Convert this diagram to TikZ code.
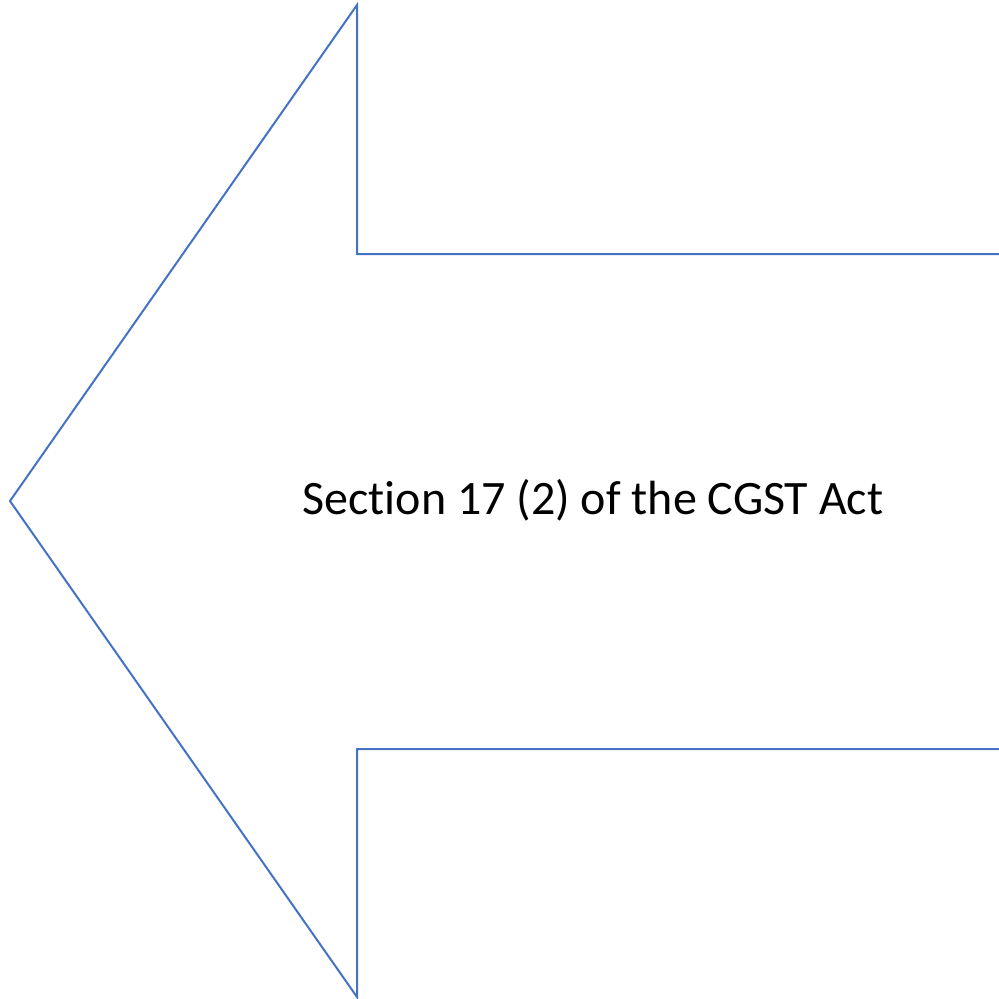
\documentclass[tikz,border=0pt]{standalone}
\usepackage{fontspec}
\setmainfont{Carlito}[Ligatures=NoCommon]
\definecolor{arrowblue}{HTML}{4472C4}
\tikzset{
  outline/.style={draw=arrowblue, line width=2pt, line join=miter},
  caption/.style={font=\fontsize{48}{58}\selectfont, text=black, inner sep=0pt}
}
\begin{document}
\begin{tikzpicture}[x=1pt,y=-1pt]
  \useasboundingbox (0,0) rectangle (999,999);
  % open-ended block arrow pointing left
  \coordinate (shaftTopEnd) at (1002,254);
  \coordinate (shaftTop) at (357,254);
  \coordinate (headTop) at (357,5);
  \coordinate (tip) at (10,501);
  \coordinate (headBot) at (357,997);
  \coordinate (shaftBot) at (357,749);
  \coordinate (shaftBotEnd) at (1002,749);
  \draw[outline] (shaftTopEnd) -- (shaftTop) -- (headTop) -- (tip) -- (headBot) -- (shaftBot) -- (shaftBotEnd);
  \node[caption] (label) at (593,500) {Section 17 (2) of the CGST Act};
\end{tikzpicture}
\end{document}
